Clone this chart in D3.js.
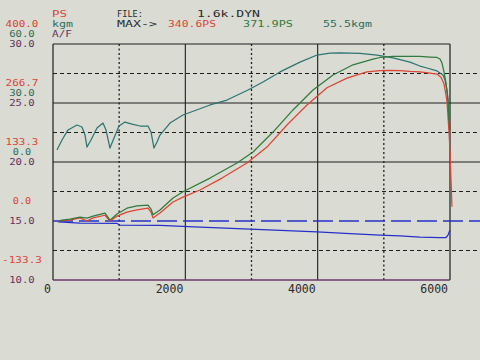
<!DOCTYPE html>
<html><head><meta charset="utf-8">
<script src="https://cdn.jsdelivr.net/npm/d3@7"></script>
<style>html,body{margin:0;padding:0;background:#dadcd4;}svg{display:block;}</style>
</head><body>
<script>
// ---- data ----
const headerFile = "1.6k.DYN";
const maxLabels = ["340.6PS", "371.9PS", "55.5kgm"];
const xTicks = [0, 2000, 4000, 6000];
const psLabels = ["400.0", "266.7", "133.3", "0.0", "-133.3"];
const psLabelValues = [400, 266.7, 133.3, 0, -133.3];
const kgmLabels = ["60.0", "30.0", "0.0"];
const kgmLabelValues = [60, 30, 0];
const afLabels = ["30.0", "25.0", "20.0", "15.0", "10.0"];
const afLabelValues = [30, 25, 20, 15, 10];

const torqueRpm = [60,136,227,363,438,484,514,574,665,756,801,861,922,997,1088,1194,1315,1436,1481,1526,1572,1617,1768,1965,2373,2630,2947,3174,3431,3733,3990,4186,4338,4640,4897,5138,5395,5546,5652,5803,5894,5924,5955,5970,5985];
const torqueKgm = [6.1,11.2,16.3,18.8,17.8,13.7,7.6,11.2,17.3,19.8,16.3,7.1,12.2,18.3,20.3,19.3,18.3,18.3,15.3,7.1,10.2,13.7,19.8,23.9,29.0,31.5,36.6,40.7,45.8,50.8,54.4,55.4,55.5,55.2,54.4,52.9,50.8,48.8,47.8,46.3,44.2,41.7,36.6,31.5,21.4];

const greenRpm = [76,136,257,408,514,605,710,786,861,967,1118,1269,1436,1481,1511,1617,1814,1965,2373,2781,3023,3325,3627,3929,4232,4534,4836,4942,5138,5395,5546,5697,5803,5849,5879,5909,5939,5970,5985,6000];
const greenPs = [0,2,4,9,6.7,11,15,18,2,16,29,34,36,27,14,25,52,66,97,131,156,201,251,296,330,353,366,369.5,371.8,371.8,371.9,370.6,369.5,366,357,337,312,273,228,205];

const redRpm = [76,257,408,514,605,786,861,967,1118,1269,1436,1481,1511,1617,1814,1965,2222,2554,2932,3234,3536,3839,4141,4443,4745,4942,5093,5244,5395,5546,5697,5803,5864,5909,5939,5955,5970,5985,6000,6015,6030];
const redPs = [0,2,7,0,7,13,0,11,20,25,29,20,7,18,43,54,70,97,131,167,217,262,301,323,337,340.1,340.6,340,338,337,334,332,325,310,285,269,235,199,160,93,32];

const afRpm = [76,408,967,1013,1617,2222,2977,3990,4489,4942,5244,5546,5849,5939,5970,6000];
const afVal = [14.92,14.83,14.79,14.66,14.62,14.49,14.32,14.07,13.94,13.81,13.73,13.64,13.6,13.6,13.81,14.24];
const afRef = 15.0;

// ---- layout ----
const W = 480, H = 360;
const L = 53, R = 450, T = 44, B = 280;
const C = {bg:"#dadcd4", red:"#dc4434", green:"#2f7a3c", teal:"#2d7473", blue:"#2630c8",
           purple:"#5e3262", tealTxt:"#2c6c5c", txt:"#2a2a2a", grid:"#1e1e1e"};
const font = "'DejaVu Sans Mono', 'Liberation Mono', monospace";

const x = d3.scaleLinear().domain([0, 6000]).range([L, R]);
const yPS = d3.scaleLinear().domain([-133.33, 400]).range([B, T]);
const yKgm = d3.scaleLinear().domain([-60, 60]).range([B, T]);
const yAF = d3.scaleLinear().domain([10, 30]).range([B, T]);

const svg = d3.select("body").append("svg").attr("width", W).attr("height", H);
svg.append("rect").attr("width", W).attr("height", H).attr("fill", C.bg);

// grid: horizontal
const hSolid = [25, 20];
const hDash = [27.5, 22.5, 17.5, 12.5];
svg.selectAll(".hs").data(hSolid).enter().append("line")
  .attr("x1", L).attr("x2", W).attr("y1", d => yAF(d)).attr("y2", d => yAF(d))
  .attr("stroke", C.grid).attr("stroke-width", 1.1);
svg.selectAll(".hd").data(hDash).enter().append("line")
  .attr("x1", L).attr("x2", W).attr("y1", d => yAF(d)).attr("y2", d => yAF(d))
  .attr("stroke", C.grid).attr("stroke-width", 1).attr("stroke-dasharray", "4,3");
// vertical
const vSolid = [2000, 4000];
const vDot = [1000, 3000, 5000];
svg.selectAll(".vs").data(vSolid).enter().append("line")
  .attr("y1", T).attr("y2", B).attr("x1", d => x(d)).attr("x2", d => x(d))
  .attr("stroke", C.grid).attr("stroke-width", 1.1);
svg.selectAll(".vd").data(vDot).enter().append("line")
  .attr("y1", T).attr("y2", B).attr("x1", d => x(d)).attr("x2", d => x(d))
  .attr("stroke", C.grid).attr("stroke-width", 1.3).attr("stroke-dasharray", "2,2.5");
// frame
svg.append("line").attr("x1", L).attr("x2", R).attr("y1", T).attr("y2", T).attr("stroke", C.grid).attr("stroke-width", 1.1);
svg.append("line").attr("x1", L).attr("x2", L).attr("y1", T).attr("y2", B).attr("stroke", C.grid).attr("stroke-width", 1.2);
svg.append("line").attr("x1", x(6000)).attr("x2", x(6000)).attr("y1", T).attr("y2", B).attr("stroke", C.grid).attr("stroke-width", 1.2);
svg.append("line").attr("x1", L).attr("x2", R).attr("y1", B).attr("y2", B).attr("stroke", "#6a3868").attr("stroke-width", 1.3);

// AF reference dashed
svg.append("line").attr("x1", x(0)).attr("x2", W).attr("y1", yAF(afRef)).attr("y2", yAF(afRef))
  .attr("stroke", C.blue).attr("stroke-width", 1.3).attr("stroke-dasharray", "20,6");

// curves
function drawLine(xs, ys, yScale, color) {
  const pts = xs.map((r, i) => [r, ys[i]]);
  svg.append("path").datum(pts)
    .attr("d", d3.line().x(d => x(d[0])).y(d => yScale(d[1])))
    .attr("fill", "none").attr("stroke", color).attr("stroke-width", 1.25).attr("stroke-linejoin", "round");
}
drawLine(afRpm, afVal, yAF, C.blue);
drawLine(torqueRpm, torqueKgm, yKgm, C.teal);
drawLine(redRpm, redPs, yPS, C.red);
drawLine(greenRpm, greenPs, yPS, C.green);

// x tick labels
svg.selectAll(".xt").data(xTicks).enter().append("text")
  .attr("x", d => x(d) - 2).attr("y", 293).attr("text-anchor", "end")
  .attr("font-family", font).attr("font-size", 11.5).attr("fill", C.txt)
  .text(d => String(d));

// text width estimate for the wide screen font
const tw = s => Array.from(s).reduce((a, ch) => a + (ch === "." ? 4 : 7.2), 0);

// left labels (three stacked columns)
const cx = 22, fs = 8.5;
function colLabels(vals, labels, yScale, dy, color) {
  svg.selectAll(null).data(vals).enter().append("text")
    .attr("x", (d, i) => cx - tw(labels[i]) / 2).attr("y", d => yScale(d) + dy)
    .attr("font-family", font).attr("font-size", fs).attr("fill", color)
    .attr("textLength", (d, i) => tw(labels[i])).attr("lengthAdjust", "spacingAndGlyphs")
    .text((d, i) => labels[i]);
}
const yLine = v => yAF(v);
colLabels(psLabelValues, psLabels, v => yLine(30 - (400 - v) / 133.333 * 5), -16.8, C.red);
colLabels(kgmLabelValues, kgmLabels, yKgm, -6.8, C.tealTxt);
colLabels(afLabelValues, afLabels, yAF, 3.0, C.purple);

// header
function txt(s, xx, yy, color, w) {
  svg.append("text").attr("x", xx).attr("y", yy).attr("font-family", font).attr("font-size", 9.5)
    .attr("fill", color).attr("textLength", w).attr("lengthAdjust", "spacingAndGlyphs").text(s);
}
txt("PS", 52, 17, C.red, 15);
txt("kgm", 52, 27, C.tealTxt, 21);
txt("A/F", 52, 37, C.purple, 20);
txt("FILE:", 117, 16.5, C.txt, 26);
txt(headerFile, 197, 16.5, C.txt, 63);
txt("MAX->", 117, 26.5, C.txt, 40);
txt(maxLabels[0], 168, 26.5, C.red, 48);
txt(maxLabels[1], 243, 26.5, C.green, 50);
txt(maxLabels[2], 323, 26.5, C.tealTxt, 49);
</script>
</body></html>
